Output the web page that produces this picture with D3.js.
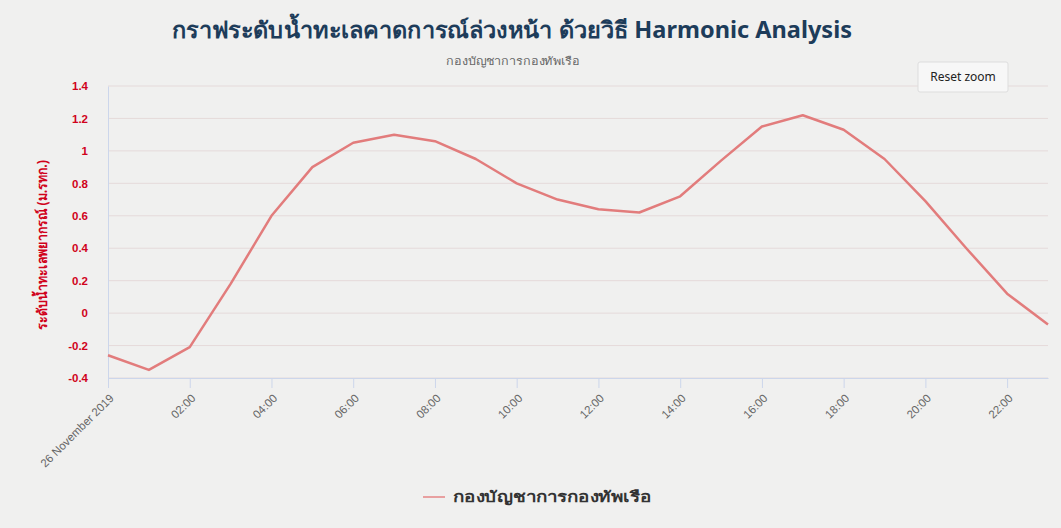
<!DOCTYPE html>
<html>
<head>
<meta charset="utf-8">
<script src="https://cdn.jsdelivr.net/npm/d3@7"></script>
<style>
  body { margin: 0; background: #f0f0ef; }
  svg { display: block; font-family: 'Noto Sans', 'DejaVu Sans', sans-serif; }
  .axis path, .axis line { stroke: #ccd6eb; }
  .grid line { stroke: #e5dada; }
</style>
</head>
<body>
<svg id="chart"></svg>
<script>
// hourly forecast, 26 November 2019, 00:00 .. 23:00
const hours = [0, 1, 2, 3, 4, 5, 6, 7, 8, 9, 10, 11, 12, 13, 14, 15, 16, 17, 18, 19, 20, 21, 22, 23];
const levels = [-0.26, -0.35, -0.21, 0.18, 0.6, 0.9, 1.05, 1.1, 1.06, 0.95, 0.8, 0.7, 0.64, 0.62, 0.72, 0.94, 1.15, 1.22, 1.13, 0.95, 0.69, 0.4, 0.12, -0.07];
const yTicks = [-0.4, -0.2, 0, 0.2, 0.4, 0.6, 0.8, 1, 1.2, 1.4];
const xTickHours = [0, 2, 4, 6, 8, 10, 12, 14, 16, 18, 20, 22];
const firstTickLabel = '26 November 2019';

const titleText = 'กราฟระดับน้ำทะเลคาดการณ์ล่วงหน้า ด้วยวิธี Harmonic Analysis';
const subtitleText = 'กองบัญชาการกองทัพเรือ';
const seriesName = 'กองบัญชาการกองทัพเรือ';
const yTitle = 'ระดับน้ำทะเลพยากรณ์ (ม.รทก.)';

class LineChart {

  constructor(_config) {
    this.config = {
      parentElement: _config.parentElement,
      containerWidth: 1061,
      containerHeight: 528,
      margin: {top: 86, right: 13, bottom: 150, left: 108}
    }
    this.data = hours.map((h, i) => ({date: new Date(2019, 10, 26, h), value: levels[i]}));
    this.initVis();
  }

  initVis() {
    let vis = this;

    vis.svg = d3.select(vis.config.parentElement)
        .attr('width', vis.config.containerWidth)
        .attr('height', vis.config.containerHeight);

    vis.width = vis.config.containerWidth - vis.config.margin.left - vis.config.margin.right;
    vis.height = vis.config.containerHeight - vis.config.margin.top - vis.config.margin.bottom;

    vis.chart = vis.svg.append('g')
        .attr('transform', `translate(${vis.config.margin.left},${vis.config.margin.top})`);

    vis.xScale = d3.scaleTime()
        .domain([new Date(2019, 10, 26, 0), new Date(2019, 10, 26, 23)])
        .range([0, vis.width]);
    vis.yScale = d3.scaleLinear()
        .domain([-0.4, 1.4])
        .range([vis.height, 0]);

    const fmt = d3.timeFormat('%H:%M');
    vis.xAxis = d3.axisBottom(vis.xScale)
        .tickValues(xTickHours.map(h => new Date(2019, 10, 26, h)))
        .tickFormat((d, i) => i === 0 ? firstTickLabel : fmt(d))
        .tickSize(10)
        .tickSizeOuter(0);

    vis.yAxis = d3.axisLeft(vis.yScale)
        .tickValues(yTicks)
        .tickFormat(d => String(+d.toFixed(1)))
        .tickSize(0)
        .tickPadding(20);

    // gridlines
    vis.chart.append('g')
        .attr('class', 'grid')
        .selectAll('line')
        .data(yTicks)
        .join('line')
        .attr('x1', 0)
        .attr('x2', vis.width)
        .attr('y1', d => vis.yScale(d))
        .attr('y2', d => vis.yScale(d));

    vis.xAxisG = vis.chart.append('g')
        .attr('class', 'axis x-axis')
        .attr('transform', `translate(0,${vis.height})`);
    vis.yAxisG = vis.chart.append('g')
        .attr('class', 'axis y-axis');

    // titles
    vis.svg.append('text')
        .attr('x', 512)
        .attr('y', 38)
        .attr('text-anchor', 'middle')
        .attr('textLength', 680)
        .attr('lengthAdjust', 'spacingAndGlyphs')
        .style('font-size', '23px')
        .style('font-weight', 'bold')
        .attr('fill', '#1d3c5a')
        .text(titleText);
    vis.svg.append('text')
        .attr('x', 513)
        .attr('y', 65)
        .attr('text-anchor', 'middle')
        .attr('textLength', 134)
        .attr('lengthAdjust', 'spacingAndGlyphs')
        .style('font-size', '11px')
        .attr('fill', '#666')
        .text(subtitleText);

    vis.svg.append('text')
        .attr('transform', `translate(47, ${vis.config.margin.top + vis.height / 2 + 13}) rotate(-90)`)
        .attr('text-anchor', 'middle')
        .attr('textLength', 170)
        .attr('lengthAdjust', 'spacingAndGlyphs')
        .style('font-size', '14px')
        .style('font-weight', 'bold')
        .attr('fill', '#d0021b')
        .text(yTitle);

    vis.updateVis();
  }

  updateVis() {
    let vis = this;
    vis.line = d3.line()
        .x(d => vis.xScale(d.date))
        .y(d => vis.yScale(d.value));
    vis.renderVis();
  }

  renderVis() {
    let vis = this;

    vis.xAxisG.call(vis.xAxis);
    vis.xAxisG.selectAll('.tick text')
        .attr('text-anchor', 'end')
        .attr('transform', 'translate(-9,6) rotate(-45)')
        .attr('dx', 0)
        .attr('dy', '0.71em')
        .style('font-size', '11.5px')
        .attr('fill', '#666');

    vis.yAxisG.call(vis.yAxis);
    vis.yAxisG.selectAll('.tick text')
        .style('font-size', '11.5px')
        .style('font-weight', 'bold')
        .attr('fill', '#d0021b');

    vis.chart.append('path')
        .datum(vis.data)
        .attr('fill', 'none')
        .attr('stroke', '#e27c7c')
        .attr('stroke-width', 2.5)
        .attr('stroke-linejoin', 'round')
        .attr('d', vis.line);

    // legend
    const legend = vis.svg.append('g')
        .attr('transform', 'translate(423, 497)');
    legend.append('line')
        .attr('x1', 0).attr('x2', 22)
        .attr('stroke', '#e8a0a0')
        .attr('stroke-width', 2);
    legend.append('text')
        .attr('x', 30)
        .attr('dy', '0.35em')
        .attr('textLength', 198)
        .attr('lengthAdjust', 'spacingAndGlyphs')
        .style('font-size', '15px')
        .style('font-weight', 'bold')
        .attr('fill', '#333')
        .text(seriesName);

    // reset zoom button
    const btn = vis.svg.append('g')
        .attr('transform', 'translate(918, 62)');
    btn.append('rect')
        .attr('width', 90).attr('height', 30)
        .attr('rx', 2)
        .attr('fill', '#f7f7f7')
        .attr('stroke', '#dddddd');
    btn.append('text')
        .attr('x', 45).attr('y', 15)
        .attr('dy', '0.35em')
        .attr('text-anchor', 'middle')
        .style('font-size', '12px')
        .attr('fill', '#222')
        .text('Reset zoom');
  }
}

new LineChart({parentElement: '#chart'});
</script>
</body>
</html>
